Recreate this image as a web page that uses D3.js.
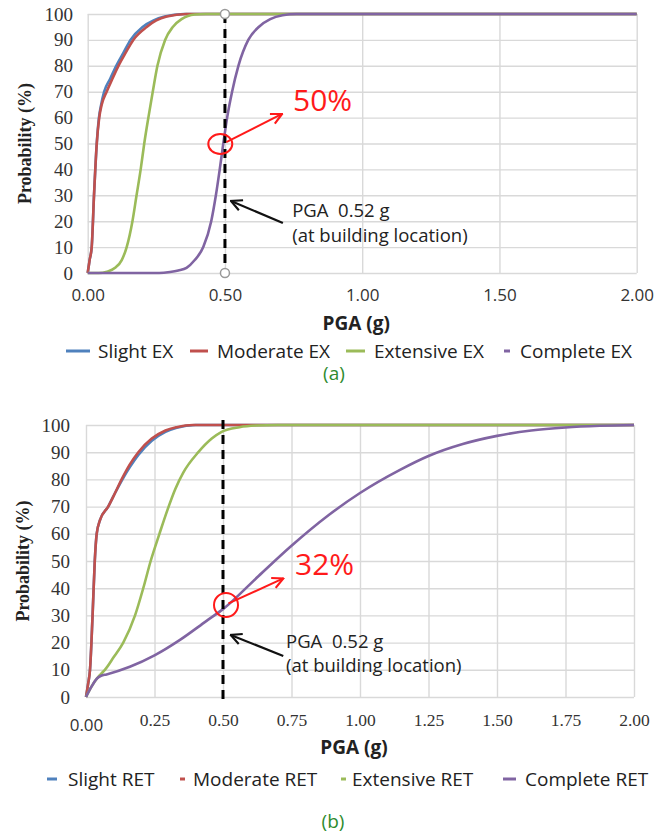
<!DOCTYPE html>
<html>
<head>
<meta charset="utf-8">
<script src="https://cdn.jsdelivr.net/npm/d3@7"></script>
<style>
  body { margin: 0; background: #fff; }
  text { font-family: "Open Sans", sans-serif; }
</style>
</head>
<body>
<div id="vis"></div>
<script>
// values: [PGA (g), probability (%)]
var slightEX = [[0,0],[0.007,5],[0.0146,10],[0.023,30],[0.033,50],[0.041,60],[0.049,65],[0.06,70],[0.082,75],[0.104,80],[0.13,85],[0.156,90],[0.2,95],[0.24,97.5],[0.28,99],[0.35,100],[2,100]];
var moderateEX = [[0,0],[0.007,5],[0.0146,10],[0.023,30],[0.033,50],[0.042,60],[0.051,65],[0.069,70],[0.09,75],[0.112,80],[0.138,85],[0.166,90],[0.215,95],[0.25,97.5],[0.288,99],[0.36,100],[2,100]];
var extensiveEX = [[0,0],[0.04,0],[0.07,0.5],[0.1,2],[0.124,5],[0.142,10],[0.163,20],[0.178,30],[0.193,40],[0.206,50],[0.221,60],[0.237,70],[0.254,80],[0.282,90],[0.31,95],[0.342,98],[0.39,99.8],[0.43,100],[2,100]];
var completeEX = [[0,0],[0.26,0],[0.3,0.4],[0.33,1],[0.36,2],[0.39,5],[0.421,10],[0.45,20],[0.467,30],[0.481,40],[0.494,50],[0.508,60],[0.526,70],[0.549,80],[0.585,90],[0.623,95],[0.665,98],[0.71,99.5],[0.76,100],[2,100]];

var slightRET = [[0,0],[0.008,5],[0.0146,10],[0.024,30],[0.032,50],[0.039,60],[0.051,65],[0.081,70],[0.106,75],[0.13,79.5],[0.16,84.5],[0.191,89],[0.24,94.2],[0.29,97.5],[0.331,99],[0.4,100],[2,100]];
var moderateRET = [[0,0],[0.008,5],[0.0146,10],[0.024,30],[0.032,50],[0.039,60],[0.051,65],[0.081,70],[0.106,75],[0.13,80],[0.16,85.5],[0.191,90],[0.24,95],[0.29,98],[0.331,99.2],[0.39,100],[2,100]];
var extensiveRET = [[0,0],[0.02,3.8],[0.04,6.8],[0.055,8.5],[0.069,10],[0.1,14.5],[0.136,20],[0.179,30],[0.209,40],[0.236,50],[0.268,60],[0.298,69],[0.326,76.5],[0.355,82.5],[0.41,90],[0.459,95],[0.495,97.5],[0.56,99.2],[0.62,99.8],[0.7,100],[2,100]];
var completeRET = [[0,0],[0.02,3.8],[0.04,6.8],[0.055,7.8],[0.075,8.3],[0.16,11.1],[0.25,15.3],[0.343,21],[0.44,28],[0.5,32.3],[0.63,44.5],[0.75,55.6],[0.886,66.9],[1.0,75],[1.146,83.5],[1.25,88.6],[1.375,93],[1.5,96],[1.625,98],[1.75,99.1],[1.875,99.7],[2,100]];

var namesA = ['Slight EX', 'Moderate EX', 'Extensive EX', 'Complete EX'];
var namesB = ['Slight RET', 'Moderate RET', 'Extensive RET', 'Complete RET'];
var yTicks = [0, 10, 20, 30, 40, 50, 60, 70, 80, 90, 100];
var xTicksA = [0, 0.5, 1, 1.5, 2];
var xTicksB = [0, 0.25, 0.5, 0.75, 1, 1.25, 1.5, 1.75, 2];
var buildingPGA = 0.5;

var colors = ['#4F81BD', '#C0504D', '#9BBB59', '#8064A2'];

var svg = d3.select('#vis').append('svg')
  .attr('width', 668)
  .attr('height', 836);

// arrow heads
var defs = svg.append('defs');
[['red', '#ff1a1a'], ['blk', '#111']].forEach(function (m) {
  defs.append('marker')
    .attr('id', 'arr-' + m[0])
    .attr('viewBox', '0 0 12 12')
    .attr('refX', 11).attr('refY', 6)
    .attr('markerWidth', 13).attr('markerHeight', 13)
    .attr('markerUnits', 'userSpaceOnUse')
    .attr('orient', 'auto')
    .append('path')
    .attr('d', 'M1,1 L11,6 L1,11')
    .attr('fill', 'none')
    .attr('stroke', m[1])
    .attr('stroke-width', 2);
});

function drawPanel(p) {
  var x = d3.scaleLinear().domain([0, 2]).range([p.left, p.right]);
  var y = d3.scaleLinear().domain([0, 100]).range([p.bottom, p.top]);
  var g = svg.append('g');

  // gridlines
  g.append('g')
    .attr('transform', 'translate(' + p.left + ',0)')
    .call(d3.axisLeft(y).tickValues(yTicks).tickSize(-(p.right - p.left)).tickFormat(''))
    .call(function (a) { a.select('.domain').remove(); })
    .selectAll('line').attr('stroke', '#d9d9d9').attr('stroke-width', 1.4);
  g.append('g')
    .attr('transform', 'translate(0,' + p.bottom + ')')
    .call(d3.axisBottom(x).tickValues(p.xTicks).tickSize(-(p.bottom - p.top)).tickFormat(''))
    .call(function (a) { a.select('.domain').remove(); })
    .selectAll('line').attr('stroke', '#d9d9d9').attr('stroke-width', 1.4);

  // y tick labels
  g.append('g')
    .attr('transform', 'translate(' + p.yLabelX + ',0)')
    .call(d3.axisLeft(y).tickValues(yTicks).tickSize(0).tickPadding(0))
    .call(function (a) { a.select('.domain').remove(); })
    .selectAll('text')
    .style('font-family', '"Liberation Serif", serif')
    .style('font-size', '19px')
    .attr('fill', '#333');

  // x tick labels
  var xa = g.append('g')
    .attr('transform', 'translate(0,' + p.xLabelY + ')')
    .call(d3.axisBottom(x).tickValues(p.xTicks).tickSize(0).tickPadding(0).tickFormat(d3.format('.2f')))
    .call(function (a) { a.select('.domain').remove(); });
  xa.selectAll('text')
    .attr('dy', '0.35em')
    .attr('fill', '#333')
    .style('font-family', function (d) { return (p.serifX && d > 0) ? '"Liberation Serif", serif' : '"Open Sans", sans-serif'; })
    .style('font-size', function (d) { return (p.serifX && d > 0) ? '17.5px' : '17px'; })
    .attr('y', function (d) { return (p.serifX && d === 0) ? 5 : 0; });

  // axis titles
  g.append('text')
    .attr('transform', 'translate(' + p.yTitleX + ',' + ((p.top + p.bottom) / 2) + ') rotate(-90)')
    .attr('text-anchor', 'middle')
    .attr('dy', '0.35em')
    .style('font-family', '"Liberation Serif", serif')
    .style('font-size', '18px')
    .style('font-weight', 'bold')
    .attr('fill', '#222')
    .text('Probability (%)');
  g.append('text')
    .attr('x', (p.left + p.right) / 2 - 6)
    .attr('y', p.xTitleY)
    .attr('text-anchor', 'middle')
    .attr('dy', '0.35em')
    .style('font-size', '19px')
    .style('font-weight', 'bold')
    .attr('fill', '#222')
    .text('PGA (g)');

  // curves
  var line = d3.line()
    .x(function (d) { return x(d[0]); })
    .y(function (d) { return y(d[1]); })
    .curve(d3.curveMonotoneX);
  p.series.forEach(function (s, i) {
    g.append('path')
      .datum(s)
      .attr('d', line)
      .attr('fill', 'none')
      .attr('stroke', colors[i])
      .attr('stroke-width', 2.6);
  });

  // dashed building PGA line
  g.append('line')
    .attr('x1', x(buildingPGA)).attr('x2', x(buildingPGA))
    .attr('y1', p.dashTop).attr('y2', p.dashBottom)
    .attr('stroke', '#000')
    .attr('stroke-width', 3)
    .attr('stroke-dasharray', '9,6');
  if (p.dots) {
    [p.top, p.bottom].forEach(function (yy) {
      g.append('circle')
        .attr('cx', x(buildingPGA)).attr('cy', yy).attr('r', 4.5)
        .attr('fill', '#fff').attr('stroke', '#999').attr('stroke-width', 1.5);
    });
  }

  // annotation
  var a = p.ann;
  g.append('ellipse')
    .attr('cx', x(a.circle[0])).attr('cy', y(a.circle[1]))
    .attr('rx', a.rx).attr('ry', a.ry)
    .attr('fill', 'none').attr('stroke', '#ff1a1a').attr('stroke-width', 2);
  g.append('line')
    .attr('x1', x(a.redFrom[0])).attr('y1', y(a.redFrom[1]))
    .attr('x2', x(a.redTo[0])).attr('y2', y(a.redTo[1]))
    .attr('stroke', '#ff1a1a').attr('stroke-width', 2)
    .attr('marker-end', 'url(#arr-red)');
  g.append('text')
    .attr('x', x(a.pct[0])).attr('y', y(a.pct[1]))
    .style('font-size', '30px')
    .attr('fill', '#ff1a1a')
    .text(a.label);
  g.append('line')
    .attr('x1', x(a.blkFrom[0])).attr('y1', y(a.blkFrom[1]))
    .attr('x2', x(a.blkTo[0])).attr('y2', y(a.blkTo[1]))
    .attr('stroke', '#111').attr('stroke-width', 2.2)
    .attr('marker-end', 'url(#arr-blk)');
  g.append('text')
    .attr('x', x(a.txt[0])).attr('y', y(a.txt[1]))
    .style('font-size', '18.5px')
    .attr('fill', '#222')
    .attr('xml:space', 'preserve')
    .text('PGA  0.52 g');
  g.append('text')
    .attr('x', x(a.txt[0])).attr('y', y(a.txt2))
    .style('font-size', '18.5px')
    .attr('fill', '#222')
    .text('(at building location)');

  // legend
  var lg = g.append('g').attr('transform', 'translate(0,' + p.legendY + ')');
  p.names.forEach(function (n, i) {
    var it = p.legendItems[i];
    lg.append('line')
      .attr('x1', it[0]).attr('x2', it[0] + it[1])
      .attr('stroke', colors[i]).attr('stroke-width', 3);
    lg.append('text')
      .attr('x', it[2])
      .attr('dy', '0.35em')
      .style('font-size', '19px')
      .attr('fill', '#222')
      .text(n);
  });

  // panel label
  g.append('text')
    .attr('x', p.tagX).attr('y', p.tagY)
    .attr('text-anchor', 'middle')
    .attr('dy', '0.35em')
    .style('font-size', '19px')
    .attr('fill', '#2e8b2e')
    .text(p.tag);
}

drawPanel({
  left: 87.7, right: 636.7, top: 14, bottom: 273,
  xTicks: xTicksA, serifX: false,
  yLabelX: 73, xLabelY: 295, yTitleX: 25, xTitleY: 323,
  series: [slightEX, moderateEX, extensiveEX, completeEX],
  dashTop: 14, dashBottom: 273, dots: true,
  ann: {
    circle: [0.483, 49.8], rx: 12, ry: 10,
    redFrom: [0.505, 50.5], redTo: [0.708, 61.4],
    pct: [0.748, 62.5], label: '50%',
    blkFrom: [0.711, 19.3], blkTo: [0.522, 27.8],
    txt: [0.745, 21.6], txt2: 11.9
  },
  names: namesA,
  legendY: 351,
  legendItems: [[66, 24, 98], [190, 18, 217], [346, 19, 374], [504, 6, 520]],
  tag: '(a)', tagX: 334, tagY: 373
});

drawPanel({
  left: 86, right: 634, top: 425, bottom: 697,
  xTicks: xTicksB, serifX: true,
  yLabelX: 70, xLabelY: 720, yTitleX: 23, xTitleY: 747,
  series: [slightRET, moderateRET, extensiveRET, completeRET],
  dashTop: 420, dashBottom: 700, dots: false,
  ann: {
    circle: [0.511, 33.8], rx: 12, ry: 12,
    redFrom: [0.52, 34.4], redTo: [0.72, 43.6],
    pct: [0.763, 44.9], label: '32%',
    blkFrom: [0.72, 15.1], blkTo: [0.528, 22.8],
    txt: [0.73, 18], txt2: 9.1
  },
  names: namesB,
  legendY: 779,
  legendItems: [[47, 10, 68], [180, 5, 193], [341, 5, 352], [503, 13, 525]],
  tag: '(b)', tagX: 333, tagY: 821
});
</script>
</body>
</html>
